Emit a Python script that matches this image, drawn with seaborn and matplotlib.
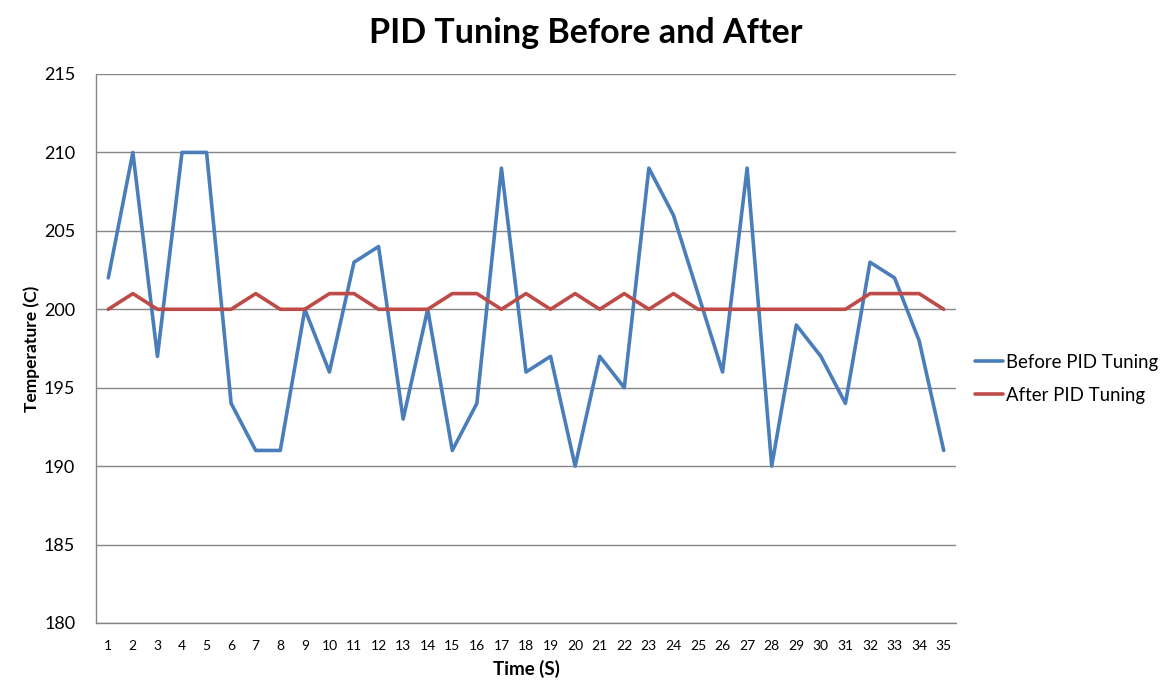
import numpy as np
import pandas as pd
import matplotlib
matplotlib.use("Agg")
import matplotlib.pyplot as plt
import seaborn as sns

time_s = list(range(1, 36))
before_pid = [202, 210, 197, 210, 210, 194, 191, 191, 200, 196,
              203, 204, 193, 200, 191, 194, 209, 196, 197, 190,
              197, 195, 209, 206, 201, 196, 209, 190, 199, 197,
              194, 203, 202, 198, 191]
after_pid = [200, 201, 200, 200, 200, 200, 201, 200, 200, 201,
             201, 200, 200, 200, 201, 201, 200, 201, 200, 201,
             200, 201, 200, 201, 200, 200, 200, 200, 200, 200,
             200, 201, 201, 201, 200]
series_names = ["Before PID Tuning", "After PID Tuning"]
y_ticks = [180, 185, 190, 195, 200, 205, 210, 215]

df = pd.DataFrame({
    "Time": time_s * 2,
    "Temperature": before_pid + after_pid,
    "Series": [series_names[0]] * len(time_s) + [series_names[1]] * len(time_s),
})

sns.set_theme(style="white")
plt.rcParams['font.family'] = ['Lato', 'DejaVu Sans']
plt.rcParams['text.color'] = 'black'
plt.rcParams['axes.labelcolor'] = 'black'
plt.rcParams['xtick.color'] = 'black'
plt.rcParams['ytick.color'] = 'black'

fig = plt.figure(figsize=(11.71, 6.97), dpi=100)
ax = fig.add_axes([96/1171, 1-623/697, (956-96)/1171, (623-74)/697])

palette = {series_names[0]: "#4A7EBB", series_names[1]: "#BE4B48"}
sns.lineplot(data=df, x="Time", y="Temperature", hue="Series", palette=palette,
             linewidth=2.6, ax=ax, legend=True)

ax.set_xlim(0.5, 35.5)
ax.set_ylim(180, 215)
ax.set_yticks(y_ticks)
ax.set_yticklabels([str(v) for v in y_ticks], fontsize=13)
ax.set_xticks(time_s)
ax.set_xticklabels([str(v) for v in time_s], fontsize=10)
ax.set_xticks(np.arange(0.5, 36.0, 1.0), minor=True)
ax.tick_params(axis='x', which='major', length=0, pad=12, labelcolor='black')
ax.tick_params(axis='x', which='minor', length=5, color="#868686", width=1, direction='out')
ax.tick_params(axis='y', which='major', length=6, color="#868686", width=1, direction='out',
               pad=9, labelcolor='black')
ax.yaxis.grid(True, color="#868686", linewidth=1)
ax.xaxis.grid(False)
ax.set_axisbelow(True)

for side in ["top", "right"]:
    ax.spines[side].set_visible(False)
ax.spines["left"].set_color("#868686")
ax.spines["bottom"].set_color("#868686")
ax.spines["left"].set_linewidth(1)
ax.spines["bottom"].set_linewidth(1)

ax.set_xlabel("Time (S)", fontsize=13.5, fontweight="bold", labelpad=6, color="black")
ax.set_ylabel("Temperature (C)", fontsize=12.5, fontweight="bold", labelpad=3, color="black")
fig.suptitle("PID Tuning Before and After", x=0.5, y=1-33/697, va="center",
             fontsize=24.5, fontweight="bold", color="black")

leg = ax.legend(loc="center left", bbox_to_anchor=(1.022, 0.445), frameon=False,
                borderpad=0, borderaxespad=0,
                fontsize=13.4, handlelength=1.5, handletextpad=0.15, labelspacing=0.85)
for t in leg.get_texts():
    t.set_color("black")

fig.savefig("out.png", dpi=100)
